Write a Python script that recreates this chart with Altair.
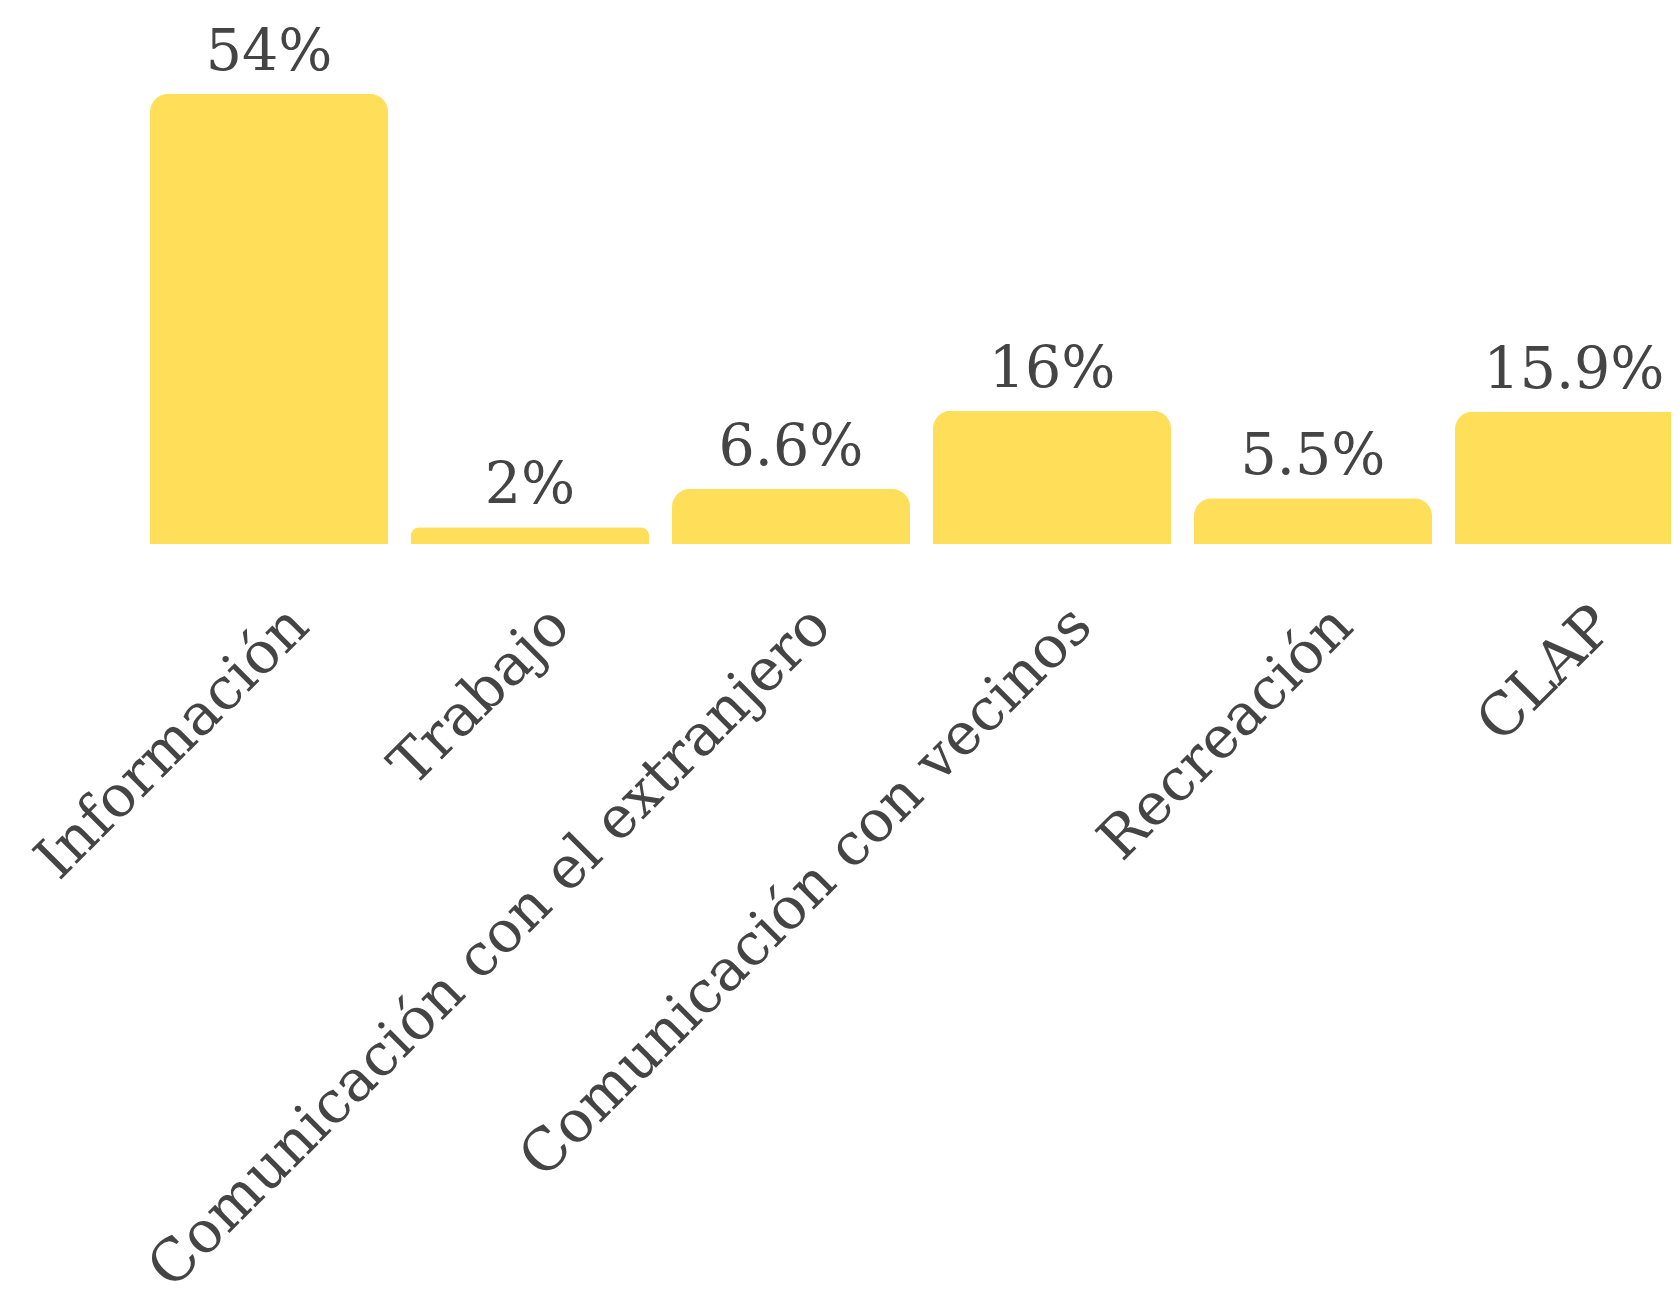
import altair as alt
import pandas as pd

categories = ["Información", "Trabajo", "Comunicación con el extranjero",
              "Comunicación con vecinos", "Recreación", "CLAP"]
values = [54, 2, 6.6, 16, 5.5, 15.9]
labels = [f"{v:g}%" for v in values]

df = pd.DataFrame({"cat": categories, "value": values, "label": labels})

FONT = "DejaVu Serif"
TXT = "#444444"

x = alt.X("cat:N", sort=None,
          scale=alt.Scale(range=[0, 1543], paddingInner=0.088, paddingOuter=0),
          axis=alt.Axis(title=None, labelAngle=-45, labelFont=FONT, labelFontSize=58,
                        labelColor=TXT, domain=False, ticks=False, tickSize=0,
                        labelPadding=52, labelOffset=10, labelLimit=3000,
                        labelOverlap=False, labelAlign="right", labelBaseline="top"))
y = alt.Y("value:Q", scale=alt.Scale(domain=[0, 54], nice=False, zero=True), axis=None)

bars = alt.Chart(df).mark_bar(color="#FFDE59", cornerRadiusTopLeft=18,
                              cornerRadiusTopRight=18).encode(x=x, y=y)
text = alt.Chart(df).mark_text(font=FONT, fontSize=57, color=TXT, dy=-24,
                               baseline="alphabetic", align="center").encode(
    x=alt.X("cat:N", sort=None), y="value:Q", text="label:N")

chart = (bars + text).properties(
    width=1521, height=450,
    autosize=alt.AutoSizeParams(type="none"),
    padding={"left": 142, "top": 86, "right": 0, "bottom": 739},
).configure_view(stroke=None)

chart.save("out.html", embed_options={"renderer": "svg", "actions": False})
